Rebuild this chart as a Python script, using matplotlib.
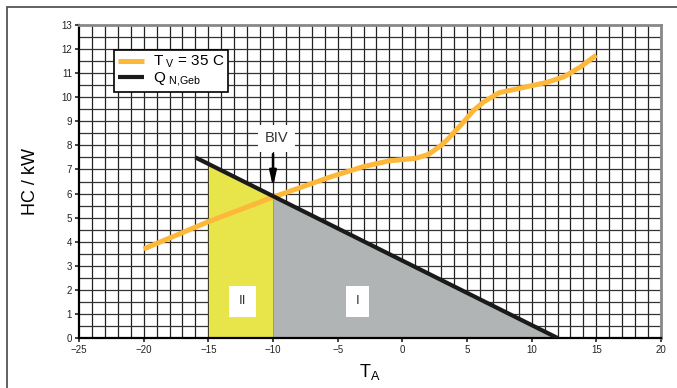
"""Heating capacity vs. outdoor temperature with building heat load and bivalence point."""

import matplotlib
matplotlib.use('Agg')
import matplotlib.pyplot as plt
from matplotlib.patches import Rectangle

plt.rcParams['font.family'] = ['Liberation Sans', 'DejaVu Sans']
plt.rcParams['mathtext.default'] = 'regular'

# heat pump capacity curve at flow temperature 35 C
hp_temp = [-20, -15, -10, -5.5, -3, -1, 1, 2, 3, 3.5, 4.7, 5.5, 6.3, 7.5, 9.4, 11.2, 12.5, 13.8, 15]
hp_cap = [3.7, 4.83, 5.85, 6.7, 7.12, 7.36, 7.46, 7.62, 8.0, 8.25, 8.95, 9.45, 9.81, 10.19, 10.41, 10.62, 10.85, 11.27, 11.75]

# building heat load line
load_temp = [-16, 12]
load_cap = [7.5, 0.0]

# operating regions
biv_temp = -10
min_temp = -15

x_ticks = list(range(-25, 21, 5))
y_ticks = list(range(0, 14))


def load_at(t):
    return load_cap[0] + (t - load_temp[0]) * (load_cap[1] - load_cap[0]) / (load_temp[1] - load_temp[0])


fig = plt.figure(figsize=(6.77, 3.88), dpi=100)
ax = fig.add_axes([79 / 677, 1 - 338 / 388, 582 / 677, 313 / 388])

# outer frame
fig.add_artist(Rectangle((7 / 677, -0.1), 1.0, 1 - 7 / 388 + 0.1, transform=fig.transFigure,
                         fill=False, edgecolor='#555555', lw=1.3))

ax.set_xlim(-25, 20)
ax.set_ylim(0, 13)

# dense grid
for t in range(-24, 20):
    ax.axvline(t, color='#222222', lw=0.9, zorder=1)
for k in range(1, 26):
    ax.axhline(k * 0.5, color='#333333', lw=0.9, zorder=1)

# region II (bivalent) and region I (heat pump alone)
ax.fill_between([min_temp, biv_temp], [load_at(min_temp), load_at(biv_temp)], 0,
                color='#e8e54a', lw=0, zorder=2)
ax.fill_between([biv_temp, load_temp[1]], [load_at(biv_temp), 0], 0,
                color='#b1b4b4', lw=0, zorder=2)

ax.plot(hp_temp, hp_cap, color='#fdb83a', lw=3.6, solid_capstyle='butt', zorder=3,
        label='T$_{\\ V}$ = 35 C')
ax.plot(load_temp, load_cap, color='#1a1a1a', lw=3.0, solid_capstyle='butt', zorder=4,
        label='Q$_{\\ N{,}Geb}$')

box = dict(boxstyle='square,pad=0.75', facecolor='white', edgecolor='none')
ax.text(-12.35, 1.52, 'II', ha='center', va='center', fontsize=9.5, color='#333333', bbox=box, zorder=5)
ax.text(-3.45, 1.52, 'I', ha='center', va='center', fontsize=9.5, color='#333333', bbox=box, zorder=5)
ax.text(-9.75, 8.3, 'BIV', ha='center', va='center', fontsize=10.5, color='#333333',
        bbox=dict(boxstyle='square,pad=0.45', facecolor='white', edgecolor='none'), zorder=5)
ax.annotate('', xy=(biv_temp, 6.15), xytext=(biv_temp, 7.75), zorder=5,
            arrowprops=dict(arrowstyle='-|>,head_width=0.2,head_length=0.9', color='black', lw=1.8))

ax.set_xticks(x_ticks)
ax.set_yticks(y_ticks)
ax.tick_params(labelsize=7, length=3, width=1.2, pad=2, colors='#222222')
ax.spines['left'].set_linewidth(1.6)
ax.spines['bottom'].set_linewidth(1.6)
for side in ('top', 'right'):
    ax.spines[side].set_color('#888888')
    ax.spines[side].set_linewidth(2)

ax.set_ylabel('HC / kW', fontsize=13, labelpad=16)
ax.set_xlabel('T$_{A}$', fontsize=13, labelpad=5)

leg = ax.legend(loc='upper left', bbox_to_anchor=(0.060, 0.920), fontsize=11, frameon=True, fancybox=False,
                framealpha=1, edgecolor='black', handlelength=1.7, borderpad=0.25, labelspacing=0.0,
                handletextpad=0.6, borderaxespad=0)
leg.get_frame().set_linewidth(1.2)
leg.set_zorder(6)

fig.savefig('out.png', dpi=100)
